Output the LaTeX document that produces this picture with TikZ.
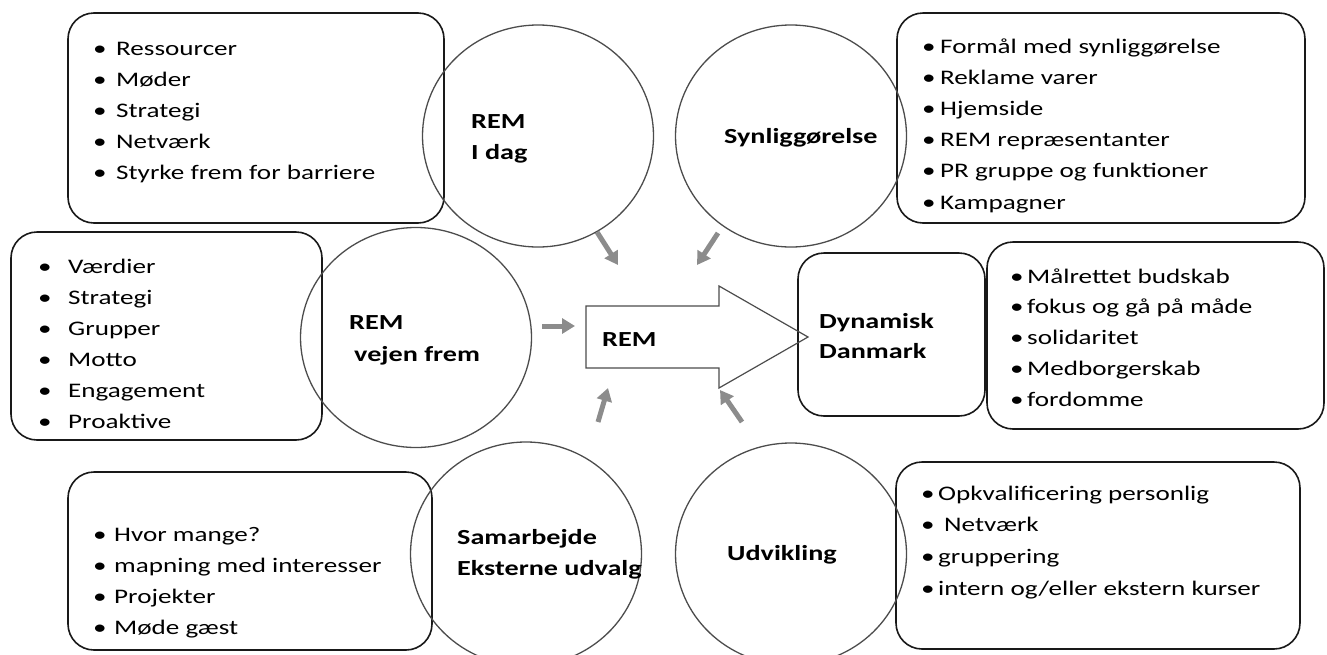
\documentclass[tikz,border=0pt]{standalone}
\usepackage{fontspec}
\setmainfont{Carlito}[FakeStretch=1.31]
\usetikzlibrary{arrows.meta,shapes.geometric}

\begin{document}
\begin{tikzpicture}[x=1pt,y=-1pt,>=latex,
    box/.style={draw=black!90,line width=1.6pt,rectangle,rounded corners=26pt,inner sep=0pt},
    ring/.style={draw=black!70,line width=1.3pt,ellipse,inner sep=0pt,minimum width=231pt,minimum height=222pt},
    item/.style={anchor=base west,inner sep=0pt,font=\fontsize{20.7}{25}\selectfont},
    lbl/.style={anchor=base west,inner sep=0pt,font=\fontsize{21.5}{25}\selectfont\bfseries},
    feed/.style={draw=black!45,line width=5pt,-{Triangle[length=13pt,width=15pt]}}]
  \path[use as bounding box] (0,0) rectangle (1327,654);
  \clip (0,0) rectangle (1327,654);

  % boxes with the lists
  \node[box,minimum width=376pt,minimum height=210pt] (todaybox) at (256,118) {};
  \node[box,minimum width=311pt,minimum height=208pt] (waybox) at (166.5,336) {};
  \node[box,minimum width=364pt,minimum height=178pt] (coopbox) at (250,561) {};
  \node[box,minimum width=408pt,minimum height=210pt] (showbox) at (1101,118) {};
  \node[box,minimum width=187pt,minimum height=163pt] (dynbox) at (891.5,334.5) {};
  \node[box,minimum width=337pt,minimum height=187pt] (goalbox) at (1155.5,335.5) {};
  \node[box,minimum width=404pt,minimum height=187pt] (devbox) at (1098,555.5) {};

  % circles
  \node[ring] (today) at (538,136) {};
  \node[ring] (show) at (791,136) {};
  \node[ring,minimum height=220pt] (way) at (416,337.5) {};
  \node[ring,minimum height=224pt] (coop) at (526,554) {};
  \node[ring] (dev) at (791,554) {};

  % the big arrow
  \draw[draw=black!70,line width=1.2pt] (586,306) -- (719,306) -- (719,286) -- (808,337)
    -- (719,388) -- (719,368) -- (586,368) -- cycle;
  \node[lbl] (rem) at (602,346) {REM};

  % labels
  \node[lbl] (today-a) at (471,128) {REM};
  \node[lbl] (today-b) at (471,159) {I dag};
  \node[lbl] (show-a) at (724,143) {Synliggørelse};
  \node[lbl] (way-a) at (349,329) {REM};
  \node[lbl] (way-b) at (354,361) {vejen frem};
  \node[lbl] (coop-a) at (457,544) {Samarbejde};
  \node[lbl] (coop-b) at (457,575) {Eksterne udvalg};
  \node[lbl] (dev-a) at (727,560) {Udvikling};
  \node[lbl] (dyn-a) at (819,328) {Dynamisk};
  \node[lbl] (dyn-b) at (819,358) {Danmark};

  % lists
  \foreach \t [count=\i] in {Ressourcer,Møder,Strategi,Netværk,Styrke frem for barriere}
    \node[item] (todayitem-\i) at (93,{55+31.2*(\i-1)}) {\makebox[23pt][l]{\textbullet}\t};
  \foreach \t [count=\i] in {Værdier,Strategi,Grupper,Motto,Engagement,Proaktive}
    \node[item] (wayitem-\i) at (38,{273+31*(\i-1)}) {\makebox[30pt][l]{\textbullet}\t};
  \foreach \t [count=\i] in {Hvor mange?,mapning med interesser,Projekter,Møde gæst}
    \node[item] (coopitem-\i) at (93,{541+31.3*(\i-1)}) {\makebox[21pt][l]{\textbullet}\t};
  \foreach \t [count=\i] in {Formål med synliggørelse,Reklame varer,Hjemside,REM repræsentanter,PR gruppe og funktioner,Kampagner}
    \node[item] (showitem-\i) at (922,{53+31.2*(\i-1)}) {\makebox[18pt][l]{\textbullet}\t};
  \foreach \t [count=\i] in {Målrettet budskab,fokus og gå på måde,solidaritet,Medborgerskab,fordomme}
    \node[item] (goalitem-\i) at (1010,{283+30.8*(\i-1)}) {\makebox[17pt][l]{\textbullet}\t};
  \foreach \t [count=\i] in {Opkvalificering personlig,\hspace{6pt}Netværk,gruppering,intern og/eller ekstern kurser}
    \node[item] (devitem-\i) at (921,{500+31.7*(\i-1)}) {\makebox[17pt][l]{\textbullet}\t};

  % small arrows into REM
  \coordinate (f1) at (597,232); \coordinate (t1) at (618,265);
  \coordinate (f2) at (718,233); \coordinate (t2) at (697,265);
  \coordinate (f3) at (542,326); \coordinate (t3) at (575,326);
  \coordinate (f4) at (598,422); \coordinate (t4) at (608,388);
  \coordinate (f5) at (742,422); \coordinate (t5) at (720,390);
  \foreach \k in {1,...,5}
    \draw[feed] (f\k) -- (t\k);
\end{tikzpicture}
\end{document}
